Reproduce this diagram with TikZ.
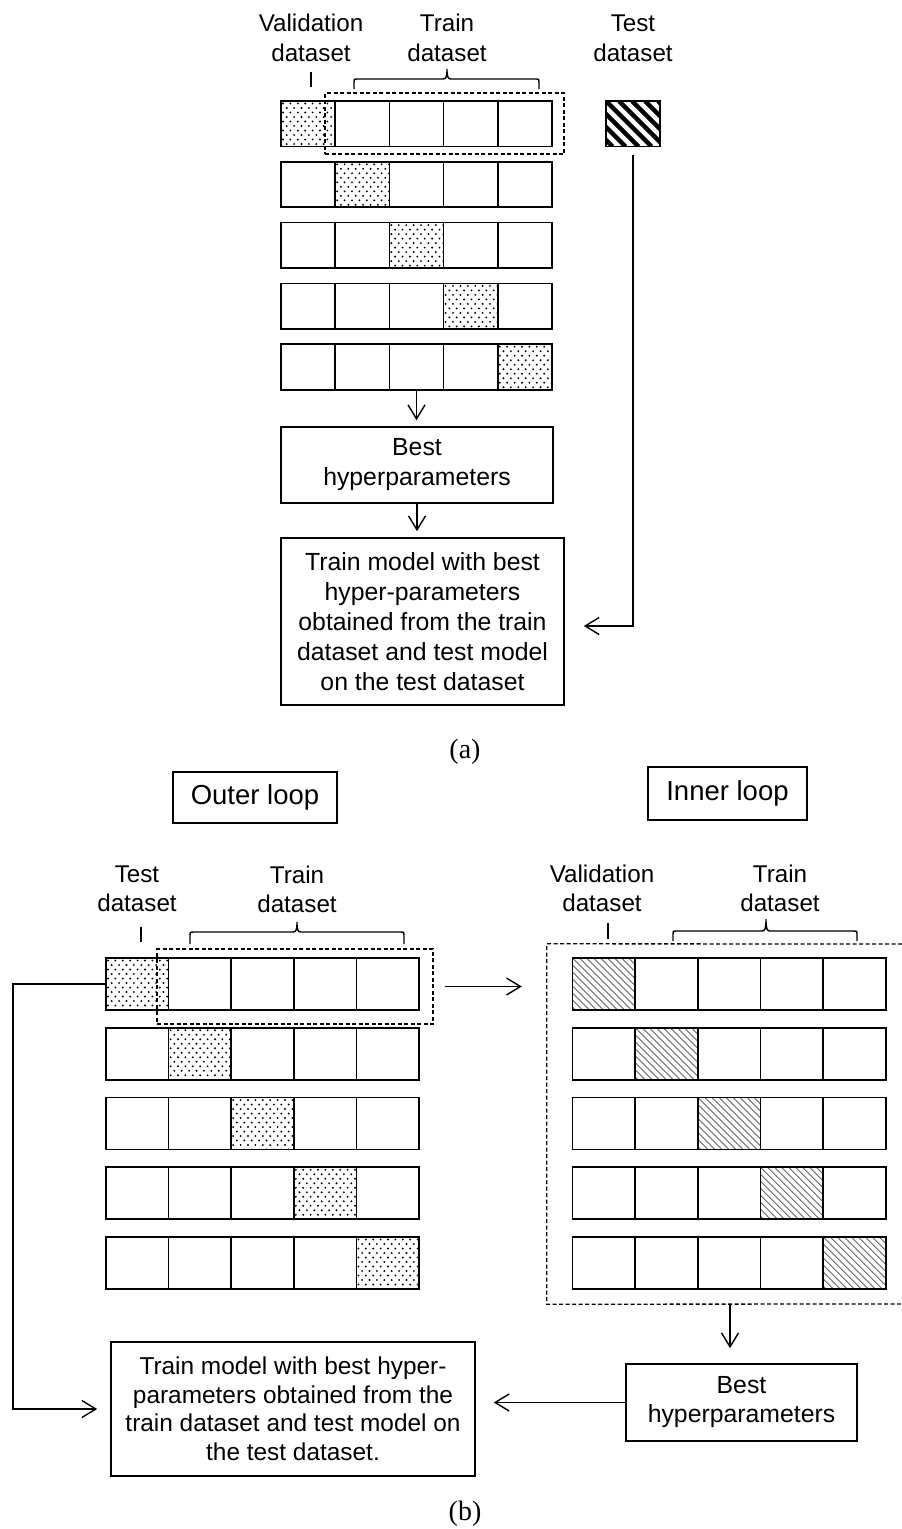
\documentclass[tikz,border=0pt]{standalone}
\usepackage{fontspec}
\setmainfont{Liberation Sans}
\newfontfamily\capfont{Liberation Serif}
\usetikzlibrary{arrows.meta}

% dotted fill of a cell: x0, y0, width, height
\newcommand\dotcell[4]{%
  \begin{scope}
    \clip ({#1},{#2}) rectangle ++({#3},{#4});
    \foreach \j in {0,...,12}{%
      \foreach \i in {0,...,9}{%
        \fill ({#1+2+\i*7.4+mod(\j,2)*3.7},{#2+2.5+\j*4.5}) circle (1.05);
      }}
  \end{scope}}

% diagonal hatching of a cell: x0, y0, width, height, period, line style
\newcommand\hatchcell[6]{%
  \begin{scope}
    \clip ({#1},{#2}) rectangle ++({#3},{#4});
    \foreach \k in {-9,...,12}{%
      \draw[#6] ({#1+\k*#5},{#2}) -- ++({#4},{#4});
    }
  \end{scope}}

% curly brace over a group: x1, x2, xc, y of ends, y of flat, y of tip
\newcommand\topbrace[6]{%
  \draw[line width=1.4pt] (#1,#4) -- (#1,#5+3) .. controls (#1,#5) .. (#1+3,#5)
    -- (#3-4,#5) .. controls (#3-1,#5) and (#3,#5-2) .. (#3,#6)
    .. controls (#3,#5-2) and (#3+1,#5) .. (#3+4,#5)
    -- (#2-3,#5) .. controls (#2,#5) .. (#2,#5+3) -- (#2,#4);}

\begin{document}
\begin{tikzpicture}[x=1pt,y=-1pt,
  cellA/.style={draw, line width=1.7pt, minimum width=54.2pt, minimum height=45.5pt, inner sep=0pt, outer sep=0pt},
  cellB/.style={draw, line width=1.7pt, minimum width=62.65pt, minimum height=52pt, inner sep=0pt, outer sep=0pt},
  lbl/.style={align=center, inner sep=0pt, font=\fontsize{24.2}{30}\selectfont},
  lblb/.style={align=center, inner sep=0pt, font=\fontsize{24.2}{29}\selectfont},
  box/.style={draw, line width=1.6pt, align=center, inner sep=0pt, font=\fontsize{24.8}{30}\selectfont},
  dbox/.style={draw, dash pattern=on 4pt off 2.5pt, line width=1.3pt, inner sep=0pt},
  arr/.style={-{Straight Barb[length=14pt,width=17pt]}, line width=1.4pt},
  tick/.style={line width=1.4pt},
  figcap/.style={font=\capfont\fontsize{28}{32}\selectfont, inner sep=0pt}]

\useasboundingbox (0,0) rectangle (902,1529);
\fill[white] (0,0) rectangle (902,1529);

% ---------------- (a) plain k-fold cross-validation ----------------
\node[lbl] (valA) at (311,38) {Validation\\dataset};
\node[lbl] (trnA) at (447,38) {Train\\dataset};
\node[lbl] (tstA) at (633,38) {Test\\dataset};
\draw[tick] (valA.south) ++(0,10) -- ++(0,15);
\topbrace{354}{539}{447}{89}{79}{69}

% validation folds
\foreach \r/\y in {1/101,2/161.8,3/222.6,4/283.4,5/344.2}{
  \pgfmathsetmacro\xx{281+(\r-1)*54.2}
  \dotcell{\xx}{\y}{54.2}{45.5}
}
\foreach \r/\y in {1/101,2/161.8,3/222.6,4/283.4,5/344.2}{
  \foreach \c in {1,...,5}{
    \node[cellA] (A-\r-\c) at ({281+(\c-0.5)*54.2},{\y+22.75}) {};
  }
}
\node[dbox, minimum width=239pt, minimum height=61pt] (trsetA) at (444.5,123.5) {};

% held-out test set
\hatchcell{606}{101}{54}{45.5}{13}{line width=4.4pt}
\node[draw, line width=1.6pt, minimum width=54pt, minimum height=45.5pt, inner sep=0pt] (testA) at (633,123.75) {};

\node[box, minimum width=272pt, minimum height=76pt] (bestA) at (417,465) {Best\\hyperparameters};
\node[box, minimum width=283pt, minimum height=167pt] (trainA) at (422.5,621.5)
  {Train model with best\\hyper-parameters\\obtained from the train\\dataset and test model\\on the test dataset};

\draw[arr, shorten >=6pt] (A-5-3.south) -- (A-5-3.south |- bestA.north);
\draw[arr, shorten >=6pt] (bestA.south) -- (bestA.south |- trainA.north);
\draw[arr, shorten <=8pt, shorten >=19pt] (testA.south) |- ([yshift=-4.5pt]trainA.east);

\node[figcap] (capA) at (465,752) {(a)};

% ---------------- (b) nested cross-validation ----------------
\node[box, font=\fontsize{27.5}{32}\selectfont, minimum width=164pt, minimum height=51pt] (outer) at (255,797.5) {Outer loop};
\node[box, font=\fontsize{27.5}{32}\selectfont, minimum width=159pt, minimum height=53pt] (inner) at (727.5,793.5) {Inner loop};

\node[lblb] (tstB) at (137,889) {Test\\dataset};
\node[lblb] (trnB) at (297,889) {Train\\dataset};
\draw[tick] (tstB.south) ++(4,15) -- ++(0,15);
\topbrace{190}{404}{297}{944}{932}{922}

\node[lblb] (valC) at (602,888) {Validation\\dataset};
\node[lblb] (trnC) at (780,888) {Train\\dataset};
\draw[tick] (valC.south) ++(6,11) -- ++(0,16);
\topbrace{673}{857}{766}{941}{931}{919}

% outer and inner folds
\foreach \r/\y in {1/958,2/1027.75,3/1097.5,4/1167.25,5/1237}{
  \pgfmathsetmacro\xo{106+(\r-1)*62.6}
  \pgfmathsetmacro\xi{572.5+(\r-1)*62.7}
  \dotcell{\xo}{\y}{62.6}{52}
  \hatchcell{\xi}{\y}{62.7}{52}{7}{line width=0.9pt, black!60}
}
\foreach \r/\y in {1/958,2/1027.75,3/1097.5,4/1167.25,5/1237}{
  \foreach \c in {1,...,5}{
    \node[cellB, minimum width=62.6pt] (O-\r-\c) at ({106+(\c-0.5)*62.6},{\y+26}) {};
    \node[cellB, minimum width=62.7pt] (I-\r-\c) at ({572.5+(\c-0.5)*62.7},{\y+26}) {};
  }
}
\node[dbox, minimum width=276pt, minimum height=75pt] (trsetB) at (295,986.5) {};
\node[inner sep=0pt, minimum width=366pt, minimum height=360pt] (innerset) at (730,1124) {};
\draw[dash pattern=on 4pt off 2.5pt, line width=1.3pt]
  (902,944) -- (innerset.north west) -- (innerset.south west) -- (902,1304);

\node[box, font=\fontsize{24.8}{29}\selectfont, minimum width=231pt, minimum height=77pt] (bestB) at (741.5,1402.5) {Best\\hyperparameters};
\node[box, font=\fontsize{24.4}{28.5}\selectfont, minimum width=364pt, minimum height=134pt] (trainB) at (293,1409)
  {Train model with best hyper-\\parameters obtained from the\\train dataset and test model on\\the test dataset.};

\draw[arr, shorten <=11pt, shorten >=25pt] (trsetB.east) -- (trsetB.east -| innerset.west);
\draw[arr, shorten >=15pt] (innerset.south) -- (innerset.south |- bestB.north);
\draw[arr, shorten >=18pt] (bestB.west) -- (bestB.west -| trainB.east);
\draw[arr, shorten >=13pt] (O-1-1.west) -- ++(-93,0) |- (trainB.west);

\node[figcap] (capB) at (465,1514) {(b)};
\end{tikzpicture}
\end{document}
